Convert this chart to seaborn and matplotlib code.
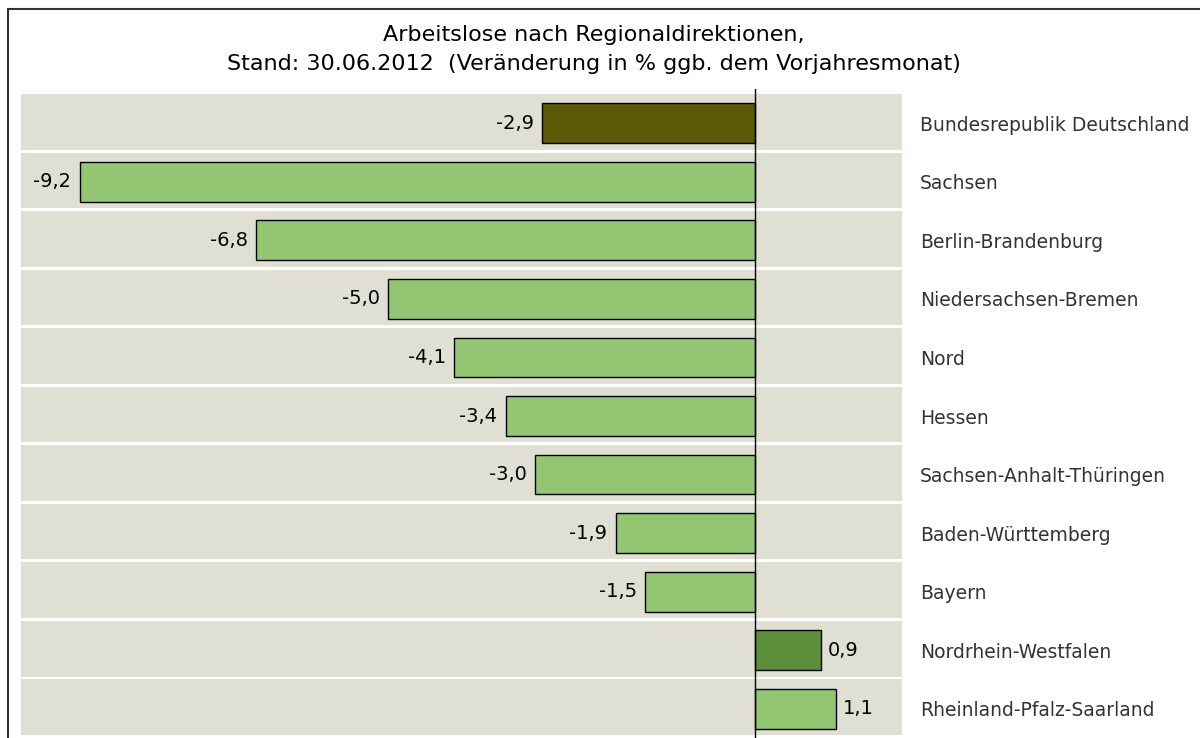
import matplotlib
matplotlib.use("Agg")
import matplotlib.pyplot as plt
from matplotlib.lines import Line2D
import seaborn as sns

# Daten
regionen = ["Bundesrepublik Deutschland", "Sachsen", "Berlin-Brandenburg",
            "Niedersachsen-Bremen", "Nord", "Hessen", "Sachsen-Anhalt-Thüringen",
            "Baden-Württemberg", "Bayern", "Nordrhein-Westfalen",
            "Rheinland-Pfalz-Saarland"]
werte = [-2.9, -9.2, -6.8, -5.0, -4.1, -3.4, -3.0, -1.9, -1.5, 0.9, 1.1]
farben = ["#5c5a08", "#93c572", "#93c572", "#93c572", "#93c572", "#93c572",
          "#93c572", "#93c572", "#93c572", "#5b8f3b", "#93c572"]

sns.set_style("white")
plt.rcParams["font.family"] = ["DejaVu Sans"]

fig = plt.figure(figsize=(12, 7.38), dpi=100)
ax = fig.add_axes([21/1200, 0.0, (902-21)/1200, 1 - 94/738])

# Hintergrundstreifen
for i in range(len(regionen)):
    ax.axhspan(i - 0.5, i + 0.5 - 0.05, color="#dfe0d3", zorder=0, lw=0)

sns.barplot(x=werte, y=regionen, hue=regionen, palette=farben, orient="h",
            width=0.68, edgecolor="black", linewidth=1, legend=False,
            saturation=1, ax=ax, zorder=2)

ax.set_xlim(-10, 2)
ax.set_ylim(len(regionen) - 0.5, -0.5)
ax.axvline(0, color="black", lw=1, ymin=0, ymax=1.007, clip_on=False, zorder=3)

# Wertebeschriftung
for i, v in enumerate(werte):
    txt = f"{v:.1f}".replace(".", ",")
    if v < 0:
        ax.annotate(txt, (v, i), xytext=(-6, 0), textcoords="offset points",
                    ha="right", va="center", fontsize=14, color="black")
    else:
        ax.annotate(txt, (v, i), xytext=(5, 0), textcoords="offset points",
                    ha="left", va="center", fontsize=14, color="black")

ax.yaxis.tick_right()
ax.tick_params(axis="y", length=0, pad=13, labelsize=13.5, labelcolor="#333333")
ax.set_xticks([])
ax.set_xlabel("")
ax.set_ylabel("")
for s in ax.spines.values():
    s.set_visible(False)

fig.text(0.495, 1 - 35/738, "Arbeitslose nach Regionaldirektionen,",
         ha="center", va="center", fontsize=16, color="black")
fig.text(0.495, 1 - 64/738,
         "Stand: 30.06.2012  (Veränderung in % ggb. dem Vorjahresmonat)",
         ha="center", va="center", fontsize=16, color="black")

# Rahmen
fig.add_artist(Line2D([8/1200, 8/1200], [0, 1 - 9/738], color="#333333", lw=1.5))
fig.add_artist(Line2D([8/1200, 1], [1 - 9/738, 1 - 9/738], color="#333333", lw=1.5))

fig.savefig("out.png", dpi=100)
